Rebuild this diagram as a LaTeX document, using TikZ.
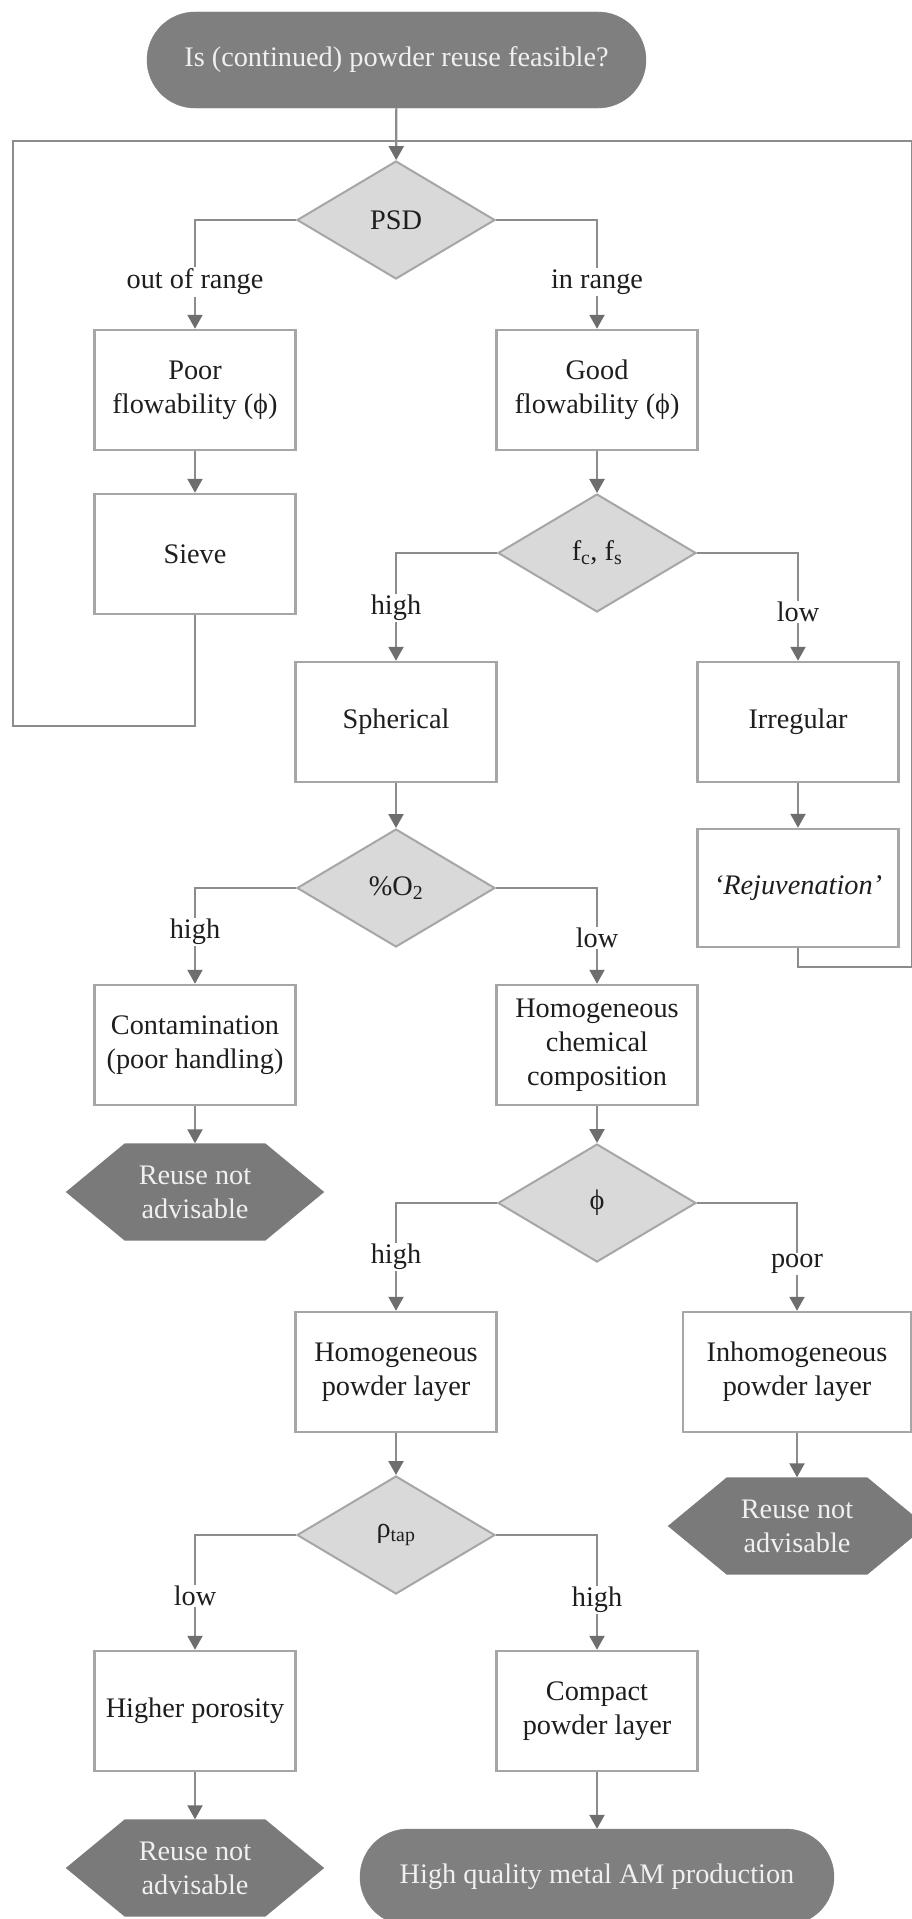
\documentclass[tikz,border=0pt]{standalone}
\usepackage{fontspec}
\setmainfont{Liberation Serif}
\usetikzlibrary{arrows.meta,shapes.geometric,backgrounds}
\definecolor{termfill}{HTML}{7F7F7F}
\definecolor{hexfill}{HTML}{7A7A7A}
\definecolor{decfill}{HTML}{D9D9D9}
\definecolor{decline}{HTML}{A6A6A6}
\definecolor{boxline}{HTML}{A6A6A6}
\definecolor{lncol}{HTML}{8C8C8C}
\definecolor{tipcol}{HTML}{6E6E6E}
\definecolor{txt}{HTML}{1E1E1E}
\definecolor{termtxt}{HTML}{F0F0F0}
\begin{document}
\begin{tikzpicture}[x=1pt,y=-1pt,
  every node/.style={font=\fontsize{28.3}{34}\selectfont},
  box/.style={rectangle, draw=boxline, line width=2.5pt, fill=white, minimum width=201pt, minimum height=120pt, align=center, text=txt, inner sep=2pt},
  dec/.style={diamond, draw=decline, fill=decfill, line width=2pt, minimum width=198pt, minimum height=118pt, inner sep=0pt, text=txt},
  term/.style={rectangle, rounded corners=48pt, fill=termfill, draw=termfill, minimum height=96pt, text=termtxt},
  hexa/.style={rectangle, minimum width=140pt, minimum height=97pt, text=termtxt, align=center, inner sep=0pt},
  lbl/.style={fill=white, inner sep=1.5pt, text=txt},
  conn/.style={draw=lncol, line width=2.2pt, -{Triangle[width=15pt,length=14pt,color=tipcol]}},
  loopline/.style={draw=lncol, line width=2.2pt}]
\useasboundingbox (0,0) rectangle (912,1919);

% nodes
\node[term, minimum width=499pt] (top) at (396.5,60) {Is (continued) powder reuse feasible?};
\node[dec] (psd) at (396,220) {PSD};
\node[box] (poor) at (195,390) {Poor\\flowability (ϕ)};
\node[box] (sieve) at (195,554) {Sieve};
\node[box] (good) at (597,390) {Good\\flowability (ϕ)};
\node[dec] (fcfs) at (597,553) {f\textsubscript{c}, f\textsubscript{s}};
\node[box] (spher) at (396,722) {Spherical};
\node[box] (irreg) at (798,722) {Irregular};
\node[box, minimum height=118pt] (rejuv) at (798,888) {\itshape ‘Rejuvenation’};
\node[dec] (oxy) at (396,888) {\%O\textsubscript{2}};
\node[box] (contam) at (195,1045) {Contamination\\(poor handling)};
\node[box] (hcc) at (597,1045) {Homogeneous\\chemical\\composition};
\node[hexa] (rna1) at (195,1192) {Reuse not\\advisable};
\node[dec] (phi) at (597,1203) {ϕ};
\node[box] (hpl) at (396,1372) {Homogeneous\\powder layer};
\node[box, minimum width=228pt] (inhom) at (797,1372) {Inhomogeneous\\powder layer};
\node[hexa] (rna3) at (797,1526) {Reuse not\\advisable};
\node[dec] (rho) at (396,1535) {ρ\textsubscript{tap}};
\node[box] (hpor) at (195,1711) {Higher porosity};
\node[box] (comp) at (597,1711) {Compact\\powder layer};
\node[hexa] (rna2) at (195,1868) {Reuse not\\advisable};
\node[term, minimum width=474pt] (final) at (597,1877) {High quality metal AM production};

% feedback loops
\coordinate (lpA) at (13,726);
\coordinate (lpB) at (13,141);
\coordinate (lpC) at (912,141);
\coordinate (lpD) at (912,967);
\draw[loopline] (sieve.south) |- (lpA) -- (lpB) -- (lpC) -- (lpD) -| (rejuv.south);

% connectors
\draw[conn] (top) -- (psd);
\draw[conn] (psd.west) -| (poor);
\draw[conn] (psd.east) -| (good);
\draw[conn] (poor) -- (sieve);
\draw[conn] (good) -- (fcfs);
\draw[conn] (fcfs.west) -| (spher);
\draw[conn] (fcfs.east) -| (irreg);
\draw[conn] (irreg) -- (rejuv);
\draw[conn] (spher) -- (oxy);
\draw[conn] (oxy.west) -| (contam);
\draw[conn] (oxy.east) -| (hcc);
\draw[conn] (contam) -- (rna1);
\draw[conn] (hcc) -- (phi);
\draw[conn] (phi.west) -| (hpl);
\draw[conn] (phi.east) -| (inhom);
\draw[conn] (inhom) -- (rna3);
\draw[conn] (hpl) -- (rho);
\draw[conn] (rho.west) -| (hpor);
\draw[conn] (rho.east) -| (comp);
\draw[conn] (hpor) -- (rna2);
\draw[conn] (comp) -- (final);

% branch labels
\node[lbl] (l1) at (195,282) {out of range};
\node[lbl] (l2) at (597,282) {in range};
\node[lbl] (l3) at (396,608) {high};
\node[lbl] (l4) at (798,612) {low};
\node[lbl] (l5) at (195,932) {high};
\node[lbl] (l6) at (597,938) {low};
\node[lbl] (l7) at (396,1257) {high};
\node[lbl] (l8) at (797,1264) {poor};
\node[lbl] (l9) at (195,1596) {low};
\node[lbl] (l10) at (597,1600) {high};

% hexagon fills behind their texts
\begin{scope}[on background layer]
\fill[white] (0,0) rectangle (912,1919);
\foreach \n in {rna1,rna2,rna3}
  \fill[hexfill] (\n.north west) -- (\n.north east) -- ([xshift=59pt]\n.east) -- (\n.south east) -- (\n.south west) -- ([xshift=-59pt]\n.west) -- cycle;
\end{scope}
\end{tikzpicture}
\end{document}
